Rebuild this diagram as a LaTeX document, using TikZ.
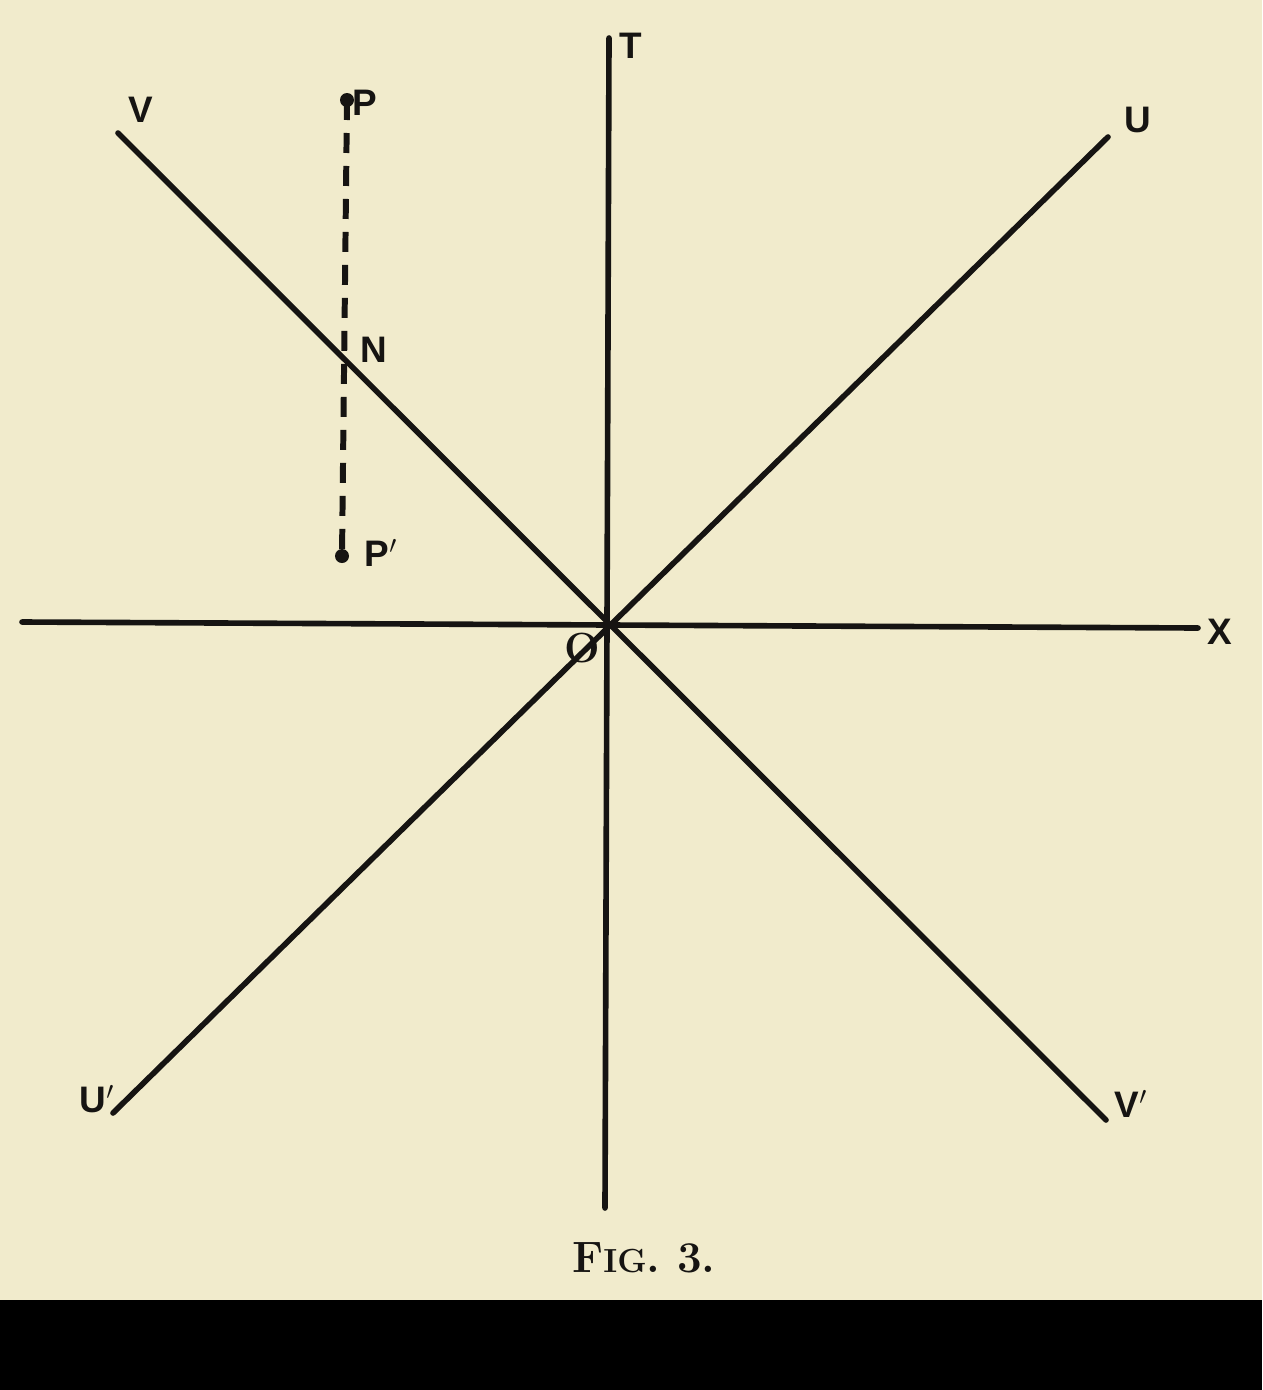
\documentclass[tikz,border=0pt]{standalone}
\usepackage{fontspec}
\newfontfamily\labfont{Liberation Sans}
\definecolor{paper}{RGB}{241,235,204}
\definecolor{ink}{RGB}{22,20,18}
\tikzset{
  axis/.style={draw=ink, line width=3.2pt, line cap=round},
  guide/.style={draw=ink, line width=3.4pt, dash pattern=on 0.40cm off 0.26cm},
  lab/.style={text=ink, font=\labfont\bfseries\fontsize{21}{21}\selectfont, inner sep=0pt},
  dotmark/.style={circle, fill=ink, inner sep=0pt, minimum size=0.28cm}
}
\begin{document}
\begin{tikzpicture}[x=0.02cm,y=-0.02cm]
\fill[paper] (0,0) rectangle (1262,1300);
\fill[black] (0,1300) rectangle (1262,1390);
\useasboundingbox (0,0) rectangle (1262,1390);
% points
\coordinate (O) at (608,624);
\coordinate (Ttop) at (609,38);
\coordinate (Tbot) at (605,1208);
\coordinate (Xl) at (22,622);
\coordinate (Xr) at (1198,628);
\coordinate (Ue) at (1108,137);
\coordinate (Upe) at (113,1113);
\coordinate (Ve) at (118,133);
\coordinate (Vpe) at (1106,1120);
\node[dotmark] (Pdot) at (347,100) {};
\node[dotmark] (Ppdot) at (342,556) {};
% lines
\draw[axis] (Ttop) -- (Tbot);
\draw[axis] (Xl) -- (Xr);
\draw[axis] (Upe) -- (Ue);
\draw[axis] (Ve) -- (Vpe);
\draw[guide] (Pdot.center) -- (Ppdot.center);
% labels
\node[lab] (T) at (631,46) {T};
\node[lab] (X) at (1220,632) {X};
\node[lab] (U) at (1138,120) {U};
\node[lab] (Up) at (97,1099) {U$'$};
\node[lab] (V) at (141,110) {V};
\node[lab] (Vp) at (1131,1104) {V$'$};
\node[lab] (P) at (365,103) {P};
\node[lab] (N) at (374,350) {N};
\node[lab] (Pp) at (381,553) {P$'$};
\node[text=ink, font=\rmfamily\upshape\bfseries\fontsize{24}{24}\selectfont, inner sep=0pt] (Olab) at (582,648) {O};
\node[text=ink, font=\rmfamily\bfseries\fontsize{25}{25}\selectfont, inner sep=0pt] (cap) at (644,1258) {F{\fontsize{19}{19}\selectfont IG}. 3.};
\end{tikzpicture}
\end{document}
